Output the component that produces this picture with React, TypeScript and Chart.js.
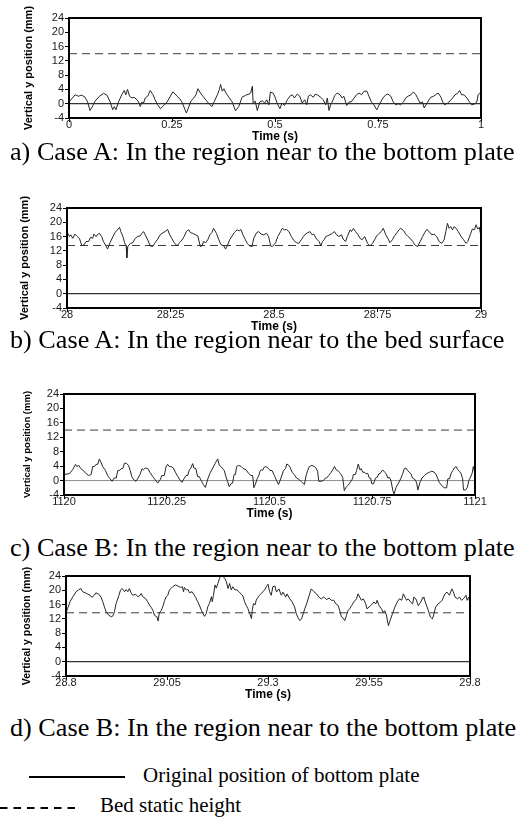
import React, { useEffect, useRef } from "react";
import { Chart, registerables } from "chart.js";

Chart.register(...registerables);

const SANS = "'Liberation Sans', Arial, sans-serif";
const SERIF = "'Liberation Serif', 'Times New Roman', serif";
const PAGE_W = 527;
const PAD_TOP = 16;
const X_AXIS_H = 26;

// ---------- shared axis content ----------
const yTickValues = [-4, 0, 4, 8, 12, 16, 20, 24];
const yTickLabels = ["-4", "0", "4", "8", "12", "16", "20", "24"];
const yTitle = "Vertical y position (mm)";
const xTitle = "Time (s)";
const plateLevel = 0;

// ---------- panel a ----------
const xTicksA = [0, 0.25, 0.5, 0.75, 1];
const xLabelsA = ["0", "0.25", "0.5", "0.75", "1"];
const bedA = 14;
const timeA = [
  0, 0.015, 0.023, 0.031, 0.039, 0.045, 0.051, 0.058, 0.063, 0.074,
  0.084, 0.092, 0.1, 0.106, 0.11, 0.114, 0.12, 0.128, 0.134, 0.138,
  0.142, 0.147, 0.153, 0.158, 0.165, 0.169, 0.173, 0.177, 0.181, 0.185,
  0.191, 0.197, 0.204, 0.209, 0.215, 0.222, 0.23, 0.238, 0.246, 0.252,
  0.258, 0.262, 0.269, 0.274, 0.28, 0.285, 0.291, 0.296, 0.303, 0.308,
  0.313, 0.319, 0.325, 0.334, 0.342, 0.347, 0.353, 0.36, 0.365, 0.368,
  0.372, 0.376, 0.381, 0.388, 0.396, 0.404, 0.412, 0.42, 0.429, 0.437,
  0.441, 0.445, 0.447, 0.452, 0.457, 0.463, 0.469, 0.475, 0.48, 0.485,
  0.489, 0.496, 0.501, 0.505, 0.512, 0.517, 0.523, 0.53, 0.536, 0.542,
  0.547, 0.554, 0.56, 0.566, 0.572, 0.577, 0.581, 0.586, 0.593, 0.598,
  0.604, 0.611, 0.617, 0.623, 0.627, 0.631, 0.635, 0.64, 0.645, 0.651,
  0.658, 0.663, 0.667, 0.674, 0.68, 0.685, 0.692, 0.698, 0.704, 0.71,
  0.716, 0.723, 0.728, 0.734, 0.74, 0.747, 0.75, 0.755, 0.762, 0.769,
  0.774, 0.781, 0.787, 0.793, 0.799, 0.805, 0.812, 0.817, 0.823, 0.83,
  0.836, 0.842, 0.846, 0.852, 0.858, 0.862, 0.869, 0.874, 0.878, 0.885,
  0.89, 0.896, 0.903, 0.907, 0.912, 0.919, 0.925, 0.931, 0.937, 0.943,
  0.948, 0.953, 0.959, 0.966, 0.972, 0.977, 0.984, 0.99, 0.993, 1.0,
];
const posA = [
  0.5, 2.5, 2.1, 2.4, 1.8, 0.5, -1.9, -0.5, 0.7, 2.1,
  2.9, 2.4, 0.5, -1.7, -0.8, -1.7, 0.5, 2.5, 3.7, 2.5,
  4.0, 2.1, 1.6, 1.8, 1.1, 0.5, -0.8, 0.5, 0.2, 1.6,
  2.1, 3.7, 2.5, 1.1, -0.3, -1.4, -0.5, 0.5, 2.1, 3.3,
  2.7, 2.1, 1.4, 0.5, -1.2, -2.6, -0.8, 0.8, 1.6, 2.5,
  4.2, 3.0, 2.1, 0.8, -0.3, -0.8, 0.7, 2.5, 4.0, 5.4,
  3.5, 4.2, 3.0, 1.8, 0.5, -2.0, -0.8, 1.8, 2.4, 2.7,
  3.0, 4.9, 0.2, 0.7, -1.9, 0.5, 0.8, 0.2, 1.1, -0.3,
  3.3, 2.9, 1.6, 0.2, -1.4, 0.2, -0.5, 1.1, 2.1, 2.5,
  1.6, 2.7, 2.1, 0.2, 1.1, -0.3, 2.1, 2.5, 1.8, 2.7,
  2.4, 1.8, 1.1, -0.3, 1.6, -1.9, -0.3, 0.8, 2.3, 3.0,
  2.5, 1.6, 2.1, -0.5, 0.5, 0.5, 1.6, 2.5, 3.0, 2.5,
  3.5, 3.5, 2.1, 0.5, -0.3, -1.7, -1.0, 0.2, 1.6, 2.5,
  2.7, 2.1, 0.5, -0.3, 0.0, -0.3, 0.5, 1.6, 2.1, 2.5,
  3.3, 2.5, 1.6, 0.2, 0.5, -1.2, 0.2, 1.1, 1.8, 2.1,
  2.5, 3.0, 1.8, 0.5, -0.3, 0.2, 0.8, 1.6, 2.5, 2.9,
  3.7, 2.5, 2.5, 1.6, 0.5, -0.3, -0.1, 0.5, 2.5, 3.3,
];

// ---------- panel b ----------
const xTicksB = [28, 28.25, 28.5, 28.75, 29];
const xLabelsB = ["28", "28.25", "28.5", "28.75", "29"];
const bedB = 13.5;
const timeB = [
  28.0, 28.006, 28.009, 28.014, 28.019, 28.025, 28.03, 28.036, 28.041, 28.046,
  28.052, 28.057, 28.062, 28.065, 28.07, 28.073, 28.078, 28.084, 28.088, 28.094,
  28.098, 28.104, 28.111, 28.116, 28.122, 28.127, 28.13, 28.135, 28.139, 28.143,
  28.1445, 28.147, 28.153, 28.159, 28.165, 28.17, 28.177, 28.181, 28.185, 28.189,
  28.195, 28.201, 28.207, 28.213, 28.219, 28.225, 28.232, 28.237, 28.243, 28.248,
  28.253, 28.259, 28.266, 28.272, 28.278, 28.283, 28.288, 28.294, 28.298, 28.304,
  28.31, 28.316, 28.322, 28.326, 28.33, 28.335, 28.34, 28.345, 28.35, 28.354,
  28.361, 28.366, 28.372, 28.379, 28.383, 28.387, 28.393, 28.399, 28.404, 28.411,
  28.416, 28.42, 28.425, 28.431, 28.436, 28.441, 28.447, 28.451, 28.458, 28.463,
  28.469, 28.475, 28.482, 28.487, 28.492, 28.496, 28.504, 28.509, 28.516, 28.52,
  28.525, 28.53, 28.536, 28.542, 28.548, 28.554, 28.56, 28.566, 28.571, 28.576,
  28.582, 28.587, 28.592, 28.596, 28.603, 28.609, 28.613, 28.617, 28.621, 28.625,
  28.629, 28.635, 28.641, 28.646, 28.651, 28.657, 28.663, 28.667, 28.673, 28.677,
  28.684, 28.687, 28.692, 28.697, 28.703, 28.708, 28.713, 28.719, 28.726, 28.732,
  28.738, 28.743, 28.748, 28.754, 28.759, 28.764, 28.77, 28.776, 28.78, 28.786,
  28.79, 28.797, 28.802, 28.806, 28.813, 28.818, 28.824, 28.829, 28.835, 28.84,
  28.847, 28.853, 28.859, 28.864, 28.869, 28.875, 28.881, 28.887, 28.893, 28.899,
  28.905, 28.911, 28.915, 28.919, 28.923, 28.927, 28.931, 28.935, 28.94, 28.945,
  28.952, 28.958, 28.964, 28.968, 28.974, 28.979, 28.984, 28.988, 28.992, 28.996,
  29.0,
];
const posB = [
  17.4, 16.0, 16.5, 15.5, 16.7, 16.0, 15.5, 13.4, 13.7, 14.6,
  14.6, 15.8, 15.5, 16.7, 16.0, 16.5, 16.9, 16.0, 14.6, 13.4,
  12.5, 14.3, 16.0, 17.1, 17.9, 18.6, 17.4, 16.0, 14.3, 13.2,
  10.0, 13.2, 14.1, 14.3, 15.5, 16.0, 16.2, 16.9, 17.4, 16.5,
  15.1, 13.4, 13.2, 14.3, 15.3, 16.5, 17.1, 17.4, 18.0, 16.5,
  15.5, 14.3, 13.4, 14.3, 15.1, 16.0, 17.4, 17.9, 17.1, 16.9,
  16.5, 16.2, 13.2, 13.4, 14.6, 14.3, 15.1, 16.5, 17.1, 18.3,
  16.9, 15.3, 13.7, 13.4, 12.5, 13.4, 15.1, 16.2, 17.1, 17.9,
  17.6, 18.0, 16.5, 15.1, 14.0, 13.4, 13.2, 15.5, 17.1, 17.4,
  16.7, 16.5, 16.9, 16.0, 13.4, 13.2, 14.3, 16.0, 17.4, 18.3,
  17.9, 18.0, 17.4, 16.0, 14.9, 14.3, 14.1, 15.1, 16.0, 16.7,
  17.1, 17.4, 16.5, 16.7, 15.3, 14.6, 13.4, 14.6, 15.1, 16.0,
  16.2, 16.5, 16.9, 17.4, 16.5, 16.0, 16.5, 15.3, 14.6, 16.0,
  17.9, 17.4, 18.3, 17.4, 16.5, 15.5, 15.1, 16.0, 14.1, 13.4,
  14.1, 15.1, 16.2, 16.9, 17.4, 18.3, 16.5, 15.3, 14.3, 15.1,
  16.0, 17.1, 17.9, 18.3, 17.7, 16.7, 16.0, 15.5, 14.6, 13.7,
  13.2, 14.6, 16.0, 17.1, 18.0, 17.4, 16.5, 16.7, 16.0, 14.6,
  14.1, 15.1, 17.4, 19.7, 18.3, 18.8, 17.9, 18.8, 18.3, 17.4,
  16.0, 15.1, 14.1, 14.6, 16.5, 18.1, 17.9, 19.3, 18.1, 18.6,
  16.0,
];

// ---------- panel c ----------
const xTicksC = [1120, 1120.25, 1120.5, 1120.75, 1121];
const xLabelsC = ["1120", "1120.25", "1120.5", "1120.75", "1121"];
const bedC = 14;
const timeC = [
  1120.0, 1120.013, 1120.021, 1120.028, 1120.031, 1120.036, 1120.041, 1120.047, 1120.054, 1120.06,
  1120.066, 1120.07, 1120.074, 1120.078, 1120.082, 1120.086, 1120.09, 1120.094, 1120.101, 1120.106,
  1120.112, 1120.117, 1120.122, 1120.127, 1120.131, 1120.135, 1120.139, 1120.143, 1120.147, 1120.152,
  1120.157, 1120.161, 1120.165, 1120.17, 1120.175, 1120.179, 1120.185, 1120.19, 1120.193, 1120.198,
  1120.204, 1120.209, 1120.216, 1120.222, 1120.228, 1120.234, 1120.238, 1120.244, 1120.248, 1120.252,
  1120.256, 1120.26, 1120.266, 1120.271, 1120.277, 1120.282, 1120.287, 1120.293, 1120.297, 1120.301,
  1120.305, 1120.309, 1120.313, 1120.316, 1120.321, 1120.325, 1120.329, 1120.333, 1120.339, 1120.344,
  1120.35, 1120.355, 1120.362, 1120.368, 1120.374, 1120.378, 1120.382, 1120.386, 1120.39, 1120.394,
  1120.398, 1120.402, 1120.406, 1120.41, 1120.414, 1120.417, 1120.42, 1120.425, 1120.431, 1120.436,
  1120.443, 1120.449, 1120.455, 1120.459, 1120.462, 1120.466, 1120.47, 1120.474, 1120.477, 1120.48,
  1120.483, 1120.487, 1120.491, 1120.498, 1120.501, 1120.506, 1120.512, 1120.517, 1120.522, 1120.528,
  1120.534, 1120.539, 1120.542, 1120.547, 1120.55, 1120.555, 1120.56, 1120.566, 1120.573, 1120.579,
  1120.585, 1120.589, 1120.593, 1120.597, 1120.603, 1120.609, 1120.613, 1120.617, 1120.62, 1120.625,
  1120.631, 1120.636, 1120.639, 1120.644, 1120.65, 1120.654, 1120.658, 1120.662, 1120.666, 1120.67,
  1120.674, 1120.678, 1120.682, 1120.686, 1120.69, 1120.694, 1120.698, 1120.702, 1120.704, 1120.709,
  1120.712, 1120.716, 1120.72, 1120.723, 1120.727, 1120.731, 1120.735, 1120.739, 1120.743, 1120.746,
  1120.749, 1120.753, 1120.758, 1120.762, 1120.766, 1120.769, 1120.774, 1120.777, 1120.78, 1120.784,
  1120.788, 1120.792, 1120.796, 1120.8, 1120.803, 1120.808, 1120.814, 1120.82, 1120.824, 1120.828,
  1120.832, 1120.836, 1120.84, 1120.844, 1120.848, 1120.855, 1120.858, 1120.861, 1120.866, 1120.871,
  1120.877, 1120.882, 1120.889, 1120.895, 1120.901, 1120.905, 1120.909, 1120.913, 1120.919, 1120.925,
  1120.931, 1120.934, 1120.938, 1120.942, 1120.946, 1120.95, 1120.954, 1120.958, 1120.962, 1120.966,
  1120.97, 1120.972, 1120.977, 1120.981, 1120.985, 1120.988, 1120.993, 1120.996, 1121.0,
];
const posC = [
  1.7, 1.9, 3.0, 4.5, 3.9, 4.2, 3.3, 2.8, 1.9, 1.4,
  1.7, 3.9, 3.9, 4.5, 4.5, 6.0, 5.1, 3.9, 2.8, 1.4,
  0.5, -0.2, 0.7, 0.7, 2.8, 2.8, 3.3, 3.3, 4.8, 4.8,
  4.2, 2.8, 1.1, 0.2, -0.2, 0.5, 1.7, 3.3, 3.0, 3.5,
  3.3, 2.3, 1.1, 0.2, -0.7, 0.2, 1.4, 1.4, 3.7, 4.5,
  3.9, 3.9, 3.5, 2.3, 1.1, 0.2, -0.5, 0.7, 1.4, 1.4,
  3.0, 3.5, 4.7, 3.5, 3.3, 1.1, 1.1, 0.2, -1.1, -1.9,
  0.5, 2.0, 3.5, 4.8, 6.0, 4.2, 3.9, 3.3, 2.8, 1.1,
  -0.2, -1.7, -0.9, -0.7, 1.7, 1.7, 3.9, 4.2, 3.9, 3.3,
  3.0, 2.0, 1.4, 1.4, -2.0, -0.9, 0.5, 1.4, 2.6, 3.0,
  2.8, 3.7, 3.9, 3.3, 2.8, 2.8, 1.4, 0.0, -1.1, 0.7,
  2.8, 3.3, 4.6, 4.2, 3.7, 2.3, 1.7, 0.7, 0.2, -0.5,
  -1.1, 1.4, 2.8, 3.9, 4.2, 3.9, 3.5, 2.6, -0.2, -0.2,
  0.0, 0.7, 0.7, 1.4, 2.3, 3.0, 3.9, 3.0, 2.8, 2.3,
  1.7, 0.9, -2.8, -1.9, -1.4, -0.9, -0.2, 0.5, 1.7, 1.7,
  2.8, 4.6, 3.0, 3.3, 2.3, 2.3, 1.9, 2.0, 0.7, 0.7,
  -0.9, -0.9, 0.7, 0.9, 1.9, 1.9, 2.8, 2.8, 2.3, 1.9,
  0.7, 0.9, -0.2, -2.8, -3.7, -1.9, -0.7, 0.7, 1.9, 3.3,
  3.5, 2.8, 2.3, 1.9, 0.7, 0.2, -0.7, -2.6, -0.5, 0.7,
  1.4, 1.9, 2.3, 2.6, 2.3, 1.7, 0.7, -0.5, -1.4, -2.0,
  -2.0, 0.5, 0.5, 2.0, 2.8, 3.5, 3.9, 3.0, 2.6, 2.0,
  0.5, -2.6, -2.6, -2.0, 0.0, 0.7, 2.0, 3.9, 1.8,
];

// ---------- panel d ----------
const xTicksD = [28.8, 29.05, 29.3, 29.55, 29.8];
const xLabelsD = ["28.8", "29.05", "29.3", "29.55", "29.8"];
const bedD = 13.7;
const timeD = [
  28.8, 28.804, 28.81, 28.817, 28.825, 28.831, 28.837, 28.841, 28.848, 28.854,
  28.86, 28.864, 28.87, 28.874, 28.881, 28.887, 28.891, 28.895, 28.899, 28.906,
  28.912, 28.916, 28.92, 28.924, 28.931, 28.935, 28.939, 28.945, 28.949, 28.953,
  28.957, 28.961, 28.965, 28.972, 28.978, 28.982, 28.986, 28.99, 28.997, 29.002,
  29.007, 29.011, 29.015, 29.019, 29.025, 29.028, 29.031, 29.036, 29.04, 29.044,
  29.048, 29.052, 29.056, 29.06, 29.064, 29.071, 29.077, 29.083, 29.088, 29.091,
  29.093, 29.098, 29.102, 29.106, 29.112, 29.116, 29.121, 29.126, 29.131, 29.135,
  29.139, 29.143, 29.147, 29.151, 29.155, 29.16, 29.162, 29.165, 29.169, 29.172,
  29.176, 29.18, 29.183, 29.188, 29.193, 29.197, 29.201, 29.205, 29.209, 29.213,
  29.217, 29.223, 29.228, 29.234, 29.238, 29.242, 29.246, 29.25, 29.255, 29.259,
  29.261, 29.264, 29.268, 29.271, 29.275, 29.279, 29.283, 29.288, 29.292, 29.296,
  29.3, 29.304, 29.308, 29.312, 29.317, 29.321, 29.327, 29.333, 29.337, 29.344,
  29.347, 29.354, 29.36, 29.366, 29.37, 29.374, 29.379, 29.383, 29.387, 29.391,
  29.397, 29.402, 29.407, 29.413, 29.42, 29.426, 29.432, 29.438, 29.445, 29.451,
  29.457, 29.463, 29.468, 29.474, 29.478, 29.482, 29.486, 29.49, 29.494, 29.498,
  29.502, 29.507, 29.512, 29.519, 29.523, 29.527, 29.531, 29.536, 29.542, 29.545,
  29.55, 29.556, 29.562, 29.567, 29.57, 29.575, 29.581, 29.585, 29.589, 29.593,
  29.598, 29.602, 29.608, 29.614, 29.62, 29.625, 29.631, 29.635, 29.639, 29.643,
  29.647, 29.653, 29.658, 29.661, 29.666, 29.672, 29.678, 29.684, 29.686, 29.691,
  29.697, 29.702, 29.707, 29.71, 29.715, 29.721, 29.727, 29.731, 29.738, 29.743,
  29.749, 29.755, 29.759, 29.763, 29.769, 29.774, 29.779, 29.785, 29.79, 29.793,
  29.797, 29.8,
];
const posD = [
  13.7, 14.9, 16.8, 18.2, 19.6, 20.1, 20.5, 19.6, 19.3, 18.9,
  18.6, 18.0, 18.6, 19.3, 18.9, 18.0, 16.8, 15.4, 14.0, 13.0,
  12.6, 12.8, 14.0, 16.3, 18.6, 20.1, 20.5, 19.6, 20.2, 19.6,
  20.5, 19.3, 18.6, 18.9, 18.2, 18.4, 19.1, 18.2, 17.7, 16.8,
  15.8, 15.2, 14.4, 13.0, 12.6, 11.4, 13.7, 14.4, 15.6, 17.1,
  18.2, 18.6, 20.1, 20.5, 21.0, 21.5, 21.2, 20.8, 21.0, 19.6,
  20.8, 20.1, 20.2, 19.3, 19.6, 18.9, 18.0, 16.8, 15.6, 14.4,
  13.5, 12.7, 13.5, 15.4, 16.3, 18.2, 16.8, 18.6, 21.5, 20.6,
  21.9, 23.3, 24.0, 24.0, 23.3, 22.4, 20.5, 21.9, 20.1, 21.0,
  20.2, 20.1, 19.6, 18.9, 18.4, 16.8, 15.8, 14.9, 13.5, 12.1,
  14.4, 16.3, 15.9, 17.3, 18.0, 18.6, 19.1, 19.6, 20.2, 21.0,
  21.7, 19.6, 18.6, 21.0, 21.2, 19.5, 20.4, 18.6, 19.5, 18.1,
  19.0, 17.6, 16.7, 15.3, 13.4, 12.4, 11.5, 12.0, 13.4, 14.8,
  16.7, 18.6, 20.4, 19.7, 19.0, 18.1, 17.6, 18.1, 17.4, 17.8,
  17.2, 17.2, 16.2, 15.7, 14.1, 12.5, 12.2, 11.5, 12.9, 14.3,
  14.8, 15.7, 16.7, 17.6, 19.0, 18.1, 17.2, 17.6, 16.2, 14.8,
  15.3, 15.9, 16.7, 16.2, 17.2, 15.7, 14.8, 13.8, 14.3, 13.1,
  10.1, 11.5, 13.4, 15.3, 16.7, 17.6, 17.2, 19.0, 18.1, 17.2,
  17.6, 16.7, 16.2, 18.1, 17.6, 15.7, 16.7, 18.1, 17.8, 16.2,
  14.3, 12.5, 12.0, 13.1, 15.3, 16.2, 16.7, 17.2, 19.0, 19.5,
  18.6, 20.4, 19.5, 18.1, 17.6, 18.1, 17.2, 17.8, 18.6, 17.2,
  18.1, 16.2,
];

// ---------- texts ----------
const captionA = "a) Case A: In the region near to the bottom plate";
const captionB = "b) Case A: In the region near to the bed surface";
const captionC = "c) Case B: In the region near to the bottom plate";
const captionD = "d) Case B: In the region near to the bottom plate";
const legendSolid = "Original position of bottom plate";
const legendDashed = "Bed static height";

const framePlugin = {
  id: "frameBox",
  afterDatasetsDraw(chart: any) {
    const { ctx, chartArea: a } = chart;
    ctx.save();
    ctx.strokeStyle = "#000";
    ctx.lineWidth = 2;
    ctx.strokeRect(a.left, a.top, a.right - a.left, a.bottom - a.top);
    ctx.restore();
  },
};

type PanelProps = {
  times: number[];
  values: number[];
  bed: number;
  xTicks: number[];
  xLabels: string[];
  plateColor: string;
  plotLeft: number;
  plotRight: number;
  plotTop: number;
  plotBottom: number;
  yTitleX: number;
  yTitleSize: number;
};

function Panel(p: PanelProps) {
  const ref = useRef<HTMLCanvasElement | null>(null);
  const canvasH = p.plotBottom - p.plotTop + PAD_TOP + X_AXIS_H;

  useEffect(() => {
    if (!ref.current) return;
    const xMin = p.xTicks[0];
    const xMax = p.xTicks[p.xTicks.length - 1];
    const lh = p.yTitleSize * 1.2;
    const chart = new Chart(ref.current, {
      type: "line",
      data: {
        datasets: [
          {
            data: p.times.map((t, i) => ({ x: t, y: p.values[i] })),
            borderColor: "#262626",
            borderWidth: 1,
            pointRadius: 0,
            tension: 0,
          },
          {
            data: [
              { x: xMin, y: plateLevel },
              { x: xMax, y: plateLevel },
            ],
            borderColor: p.plateColor,
            borderWidth: 1,
            pointRadius: 0,
          },
          {
            data: [
              { x: xMin, y: p.bed },
              { x: xMax, y: p.bed },
            ],
            borderColor: "#3c3c3c",
            borderWidth: 1,
            borderDash: [8, 5],
            pointRadius: 0,
          },
        ],
      },
      options: {
        animation: false,
        responsive: false,
        devicePixelRatio: 1,
        events: [],
        layout: {
          padding: { left: 0, right: PAGE_W - p.plotRight, top: PAD_TOP, bottom: 0 },
        },
        plugins: { legend: { display: false }, tooltip: { enabled: false } },
        scales: {
          x: {
            type: "linear",
            min: xMin,
            max: xMax,
            afterFit: (s: any) => {
              s.height = X_AXIS_H;
            },
            afterBuildTicks: (s: any) => {
              s.ticks = p.xTicks.map((v) => ({ value: v }));
            },
            ticks: {
              autoSkip: false,
              maxRotation: 0,
              padding: -4,
              color: "#1a1a1a",
              font: { family: SANS, size: 11 },
              callback: (_v: any, i: number) => p.xLabels[i],
            },
            grid: { drawOnChartArea: false, tickLength: 4, color: "#000", lineWidth: 1 },
            border: { display: false },
            title: {
              display: true,
              text: xTitle,
              color: "#000",
              font: { family: SANS, size: 12, weight: "bold" },
              padding: { top: 0, bottom: 0 },
            },
          },
          y: {
            type: "linear",
            min: -4,
            max: 24,
            afterFit: (s: any) => {
              s.width = p.plotLeft;
            },
            afterBuildTicks: (s: any) => {
              s.ticks = yTickValues.map((v) => ({ value: v }));
            },
            ticks: {
              autoSkip: false,
              padding: 1,
              color: "#1a1a1a",
              font: { family: SANS, size: 11 },
              callback: (_v: any, i: number) => yTickLabels[i],
            },
            grid: { drawOnChartArea: false, tickLength: 4, color: "#000", lineWidth: 1 },
            border: { display: false },
            title: {
              display: true,
              text: yTitle,
              color: "#000",
              font: { family: SANS, size: p.yTitleSize, weight: "bold" },
              padding: { top: p.yTitleX - lh / 2, bottom: 0 },
            },
          },
        },
      } as any,
      plugins: [framePlugin],
    });
    return () => chart.destroy();
  }, []);

  return (
    <canvas
      ref={ref}
      width={PAGE_W}
      height={canvasH}
      style={{
        position: "absolute",
        left: 0,
        top: p.plotTop - PAD_TOP,
        width: PAGE_W,
        height: canvasH,
      }}
    />
  );
}

function Caption({ text, baseline, left }: { text: string; baseline: number; left: number }) {
  return (
    <div
      style={{
        position: "absolute",
        left,
        top: baseline - 21.9,
        fontFamily: SERIF,
        fontSize: 26.2,
        lineHeight: "26.2px",
        whiteSpace: "nowrap",
        color: "#000",
      }}
    >
      {text}
    </div>
  );
}

export default function App() {
  return (
    <div
      style={{
        position: "absolute",
        left: 0,
        top: 0,
        width: PAGE_W,
        height: 819,
        background: "#fff",
        overflow: "hidden",
      }}
    >
      <Panel
        times={timeA}
        values={posA}
        bed={bedA}
        xTicks={xTicksA}
        xLabels={xLabelsA}
        plateColor="#000"
        plotLeft={69}
        plotRight={481}
        plotTop={18}
        plotBottom={118}
        yTitleX={28.5}
        yTitleSize={11}
      />
      <Caption text={captionA} baseline={161} left={10} />
      <Panel
        times={timeB}
        values={posB}
        bed={bedB}
        xTicks={xTicksB}
        xLabels={xLabelsB}
        plateColor="#000"
        plotLeft={67}
        plotRight={481}
        plotTop={208}
        plotBottom={308}
        yTitleX={25}
        yTitleSize={11}
      />
      <Caption text={captionB} baseline={349} left={10} />
      <Panel
        times={timeC}
        values={posC}
        bed={bedC}
        xTicks={xTicksC}
        xLabels={xLabelsC}
        plateColor="#8c8c8c"
        plotLeft={64}
        plotRight={475}
        plotTop={394}
        plotBottom={495}
        yTitleX={27.5}
        yTitleSize={9.5}
      />
      <Caption text={captionC} baseline={557} left={10} />
      <Panel
        times={timeD}
        values={posD}
        bed={bedD}
        xTicks={xTicksD}
        xLabels={xLabelsD}
        plateColor="#000"
        plotLeft={66}
        plotRight={470}
        plotTop={576}
        plotBottom={676}
        yTitleX={27.5}
        yTitleSize={10.5}
      />
      <Caption text={captionD} baseline={737} left={10} />

      <svg
        style={{ position: "absolute", left: 0, top: 760 }}
        width={140}
        height={60}
      >
        <line x1={29} y1={17} x2={125} y2={17} stroke="#000" strokeWidth={2} />
        <line
          x1={0}
          y1={48}
          x2={77}
          y2={48}
          stroke="#000"
          strokeWidth={2}
          strokeDasharray="7.5 6"
        />
      </svg>
      <div
        style={{
          position: "absolute",
          left: 143,
          top: 783 - 17.6,
          fontFamily: SERIF,
          fontSize: 21,
          lineHeight: "21px",
          whiteSpace: "nowrap",
          color: "#000",
        }}
      >
        {legendSolid}
      </div>
      <div
        style={{
          position: "absolute",
          left: 100,
          top: 813 - 17.6,
          fontFamily: SERIF,
          fontSize: 21,
          lineHeight: "21px",
          whiteSpace: "nowrap",
          color: "#000",
        }}
      >
        {legendDashed}
      </div>
    </div>
  );
}
